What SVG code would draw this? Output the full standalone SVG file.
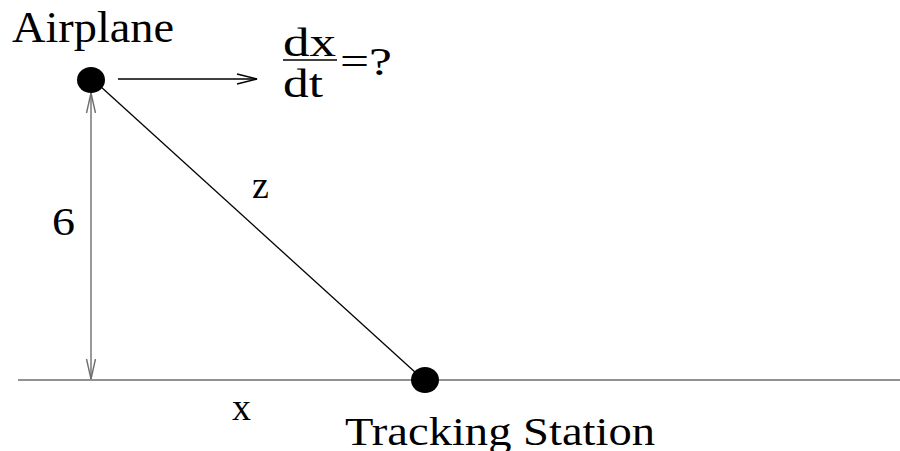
<svg xmlns="http://www.w3.org/2000/svg" width="900" height="451" viewBox="0 0 900 451">
<style>
.t{font-family:"Liberation Serif","Times New Roman",serif;fill:#000}
.g{stroke:#6e6e6e;stroke-width:1.4;fill:none}
.k{stroke:#000;stroke-width:1.3;fill:none}
</style>
<defs>
<marker id="ah" markerWidth="24" markerHeight="12" refX="22" refY="6" orient="auto" markerUnits="userSpaceOnUse">
<path d="M2,1 L22,6 L2,11" fill="none" stroke="#000" stroke-width="1.3"/>
</marker>
<marker id="ahg" markerWidth="24" markerHeight="12" refX="22" refY="6" orient="auto-start-reverse" markerUnits="userSpaceOnUse">
<path d="M2,1.5 L22,6 L2,10.5" fill="none" stroke="#6e6e6e" stroke-width="1.4"/>
</marker>
</defs>
<rect width="900" height="451" fill="#fff"/>
<g id="connectors">
<line class="g" x1="18" y1="380" x2="900" y2="380"/>
<line class="g" x1="91" y1="93" x2="91" y2="379" marker-start="url(#ahg)" marker-end="url(#ahg)"/>
<line class="k" x1="100" y1="86" x2="416" y2="373"/>
<line class="k" x1="118" y1="79" x2="257" y2="79" marker-end="url(#ah)"/>
</g>
<g id="airplane">
<ellipse cx="91" cy="80" rx="14" ry="13" fill="#000"/>
<text class="t" x="12" y="42" font-size="44" textLength="162" lengthAdjust="spacingAndGlyphs">Airplane</text>
</g>
<g id="station">
<ellipse cx="425" cy="380" rx="14" ry="13" fill="#000"/>
<text class="t" x="345" y="445" font-size="41" textLength="310" lengthAdjust="spacingAndGlyphs">Tracking Station</text>
</g>
<g id="rate">
<text class="t" x="283" y="56" font-size="40" textLength="53" lengthAdjust="spacingAndGlyphs">dx</text>
<line x1="283" y1="60" x2="337" y2="60" stroke="#000" stroke-width="1.3"/>
<text class="t" x="283" y="97" font-size="40" textLength="40" lengthAdjust="spacingAndGlyphs">dt</text>
<text class="t" x="340" y="75" font-size="41" textLength="52" lengthAdjust="spacingAndGlyphs">=?</text>
</g>
<g id="labels">
<text class="t" x="52" y="235" font-size="41" textLength="23" lengthAdjust="spacingAndGlyphs">6</text>
<text class="t" x="252" y="198" font-size="38">z</text>
<text class="t" x="232" y="420" font-size="38">x</text>
</g>
</svg>
